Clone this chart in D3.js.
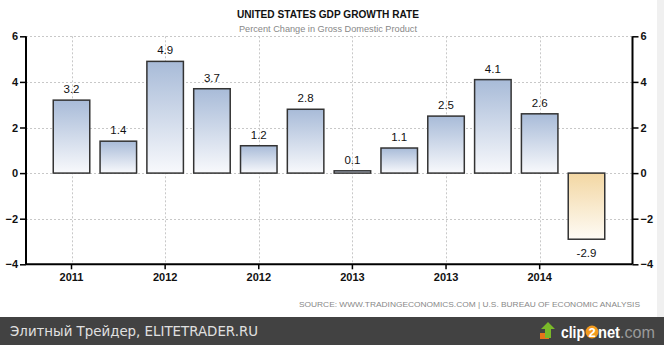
<!DOCTYPE html>
<html><head><meta charset="utf-8">
<script src="https://cdn.jsdelivr.net/npm/d3@7"></script>
<style>
html,body{margin:0;padding:0;background:#fff;}
svg{display:block;}
</style></head>
<body>
<script>
const categories = ["2011Q2","2011Q3","2011Q4","2012Q1","2012Q2","2012Q3","2012Q4","2013Q1","2013Q2","2013Q3","2013Q4","2014Q1"];
const values = [3.2, 1.4, 4.9, 3.7, 1.2, 2.8, 0.1, 1.1, 2.5, 4.1, 2.6, -2.9];
const xTickCategories = ["2011Q2","2011Q4","2012Q2","2012Q4","2013Q2","2013Q4"];
const xTickLabels = ["2011","2012","2012","2013","2013","2014"];
const yTicks = [-4, -2, 0, 2, 4, 6];

const W = 664, H = 345;
const svg = d3.select("body").append("svg").attr("width", W).attr("height", H);
const font = "'Liberation Sans', Arial, sans-serif";

// light strip on right
svg.append("rect").attr("x", 657).attr("y", 0).attr("width", 7).attr("height", 317).attr("fill", "#f0f0f0");

const defs = svg.append("defs");
const gPos = defs.append("linearGradient").attr("id", "gpos").attr("x1", 0).attr("y1", 0).attr("x2", 0).attr("y2", 1);
gPos.append("stop").attr("offset", "0%").attr("stop-color", "#a8bbd8");
gPos.append("stop").attr("offset", "100%").attr("stop-color", "#f8f9fc");
const gNeg = defs.append("linearGradient").attr("id", "gneg").attr("x1", 0).attr("y1", 0).attr("x2", 0).attr("y2", 1);
gNeg.append("stop").attr("offset", "0%").attr("stop-color", "#f3d7a3");
gNeg.append("stop").attr("offset", "100%").attr("stop-color", "#fefbf5");

const xLeft = 26, xRight = 632.5;
const y = d3.scaleLinear().domain([-4, 6]).range([264.3, 36.3]);
const x = d3.scaleBand().domain(categories).range([48.1, 609.9]).paddingInner(0.22).paddingOuter(0.11);

// grid
const grid = svg.append("g").attr("stroke", "#c8c8c8").attr("stroke-dasharray", "2,2").attr("stroke-width", 1);
yTicks.filter(t => t !== -4).forEach(t => {
  grid.append("line").attr("x1", xLeft).attr("x2", xRight).attr("y1", Math.round(y(t)) + 0.5).attr("y2", Math.round(y(t)) + 0.5);
});
xTickCategories.forEach(c => {
  const cx = Math.round(x(c) + x.bandwidth() / 2) + 0.5;
  grid.append("line").attr("x1", cx).attr("x2", cx).attr("y1", y(6)).attr("y2", y(-4));
});

// bars
svg.append("g").selectAll("rect").data(values).join("rect")
  .attr("x", (d, i) => x(categories[i]))
  .attr("width", x.bandwidth())
  .attr("y", d => y(Math.max(0, d)))
  .attr("height", d => Math.abs(y(d) - y(0)))
  .attr("fill", d => d < 0 ? "url(#gneg)" : "url(#gpos)")
  .attr("stroke", "#333")
  .attr("stroke-width", 1.5);

// value labels
svg.append("g").selectAll("text").data(values).join("text")
  .attr("x", (d, i) => x(categories[i]) + x.bandwidth() / 2)
  .attr("y", d => d >= 0 ? y(d) - 7 : y(d) + 18)
  .attr("text-anchor", "middle")
  .attr("font-family", font).attr("font-size", 11.5).attr("fill", "#111")
  .text(d => d.toFixed(1));

// left axis
const leftAxis = d3.axisLeft(y).tickValues(yTicks).tickSize(6).tickFormat(d3.format("d"));
const gl = svg.append("g").attr("transform", `translate(${xLeft},0)`).call(leftAxis);
gl.select(".domain").attr("stroke", "#000").attr("stroke-width", 2).attr("d", `M0,${y(6)}V${y(-4)}`);
gl.selectAll(".tick line").attr("stroke", "#000").attr("stroke-width", 1.5);
gl.selectAll(".tick text").attr("font-family", font).attr("font-size", 11).attr("font-weight", "bold").attr("fill", "#111").attr("x", -8);

const rightAxis = d3.axisRight(y).tickValues(yTicks).tickSize(6).tickFormat(d3.format("d"));
const gr = svg.append("g").attr("transform", `translate(${xRight},0)`).call(rightAxis);
gr.select(".domain").attr("stroke", "#000").attr("stroke-width", 2).attr("d", `M0,${y(6)}V${y(-4)}`);
gr.selectAll(".tick line").attr("stroke", "#000").attr("stroke-width", 1.5);
gr.selectAll(".tick text").attr("font-family", font).attr("font-size", 11).attr("font-weight", "bold").attr("fill", "#111").attr("x", 8);

// bottom axis
const bottomAxis = d3.axisBottom(x).tickValues(xTickCategories).tickSize(5)
  .tickFormat(c => xTickLabels[xTickCategories.indexOf(c)]);
const gb = svg.append("g").attr("transform", `translate(0,${y(-4)})`).call(bottomAxis);
gb.select(".domain").attr("stroke", "#000").attr("stroke-width", 2).attr("d", `M${xLeft},0H${xRight}`);
gb.selectAll(".tick line").attr("stroke", "#000").attr("stroke-width", 1.5);
gb.selectAll(".tick text").attr("font-family", font).attr("font-size", 11).attr("font-weight", "bold").attr("fill", "#111").attr("y", 9);

// titles
svg.append("text").attr("x", 237).attr("y", 18)
  .attr("font-family", font).attr("font-size", 11.5).attr("font-weight", "bold").attr("fill", "#111")
  .attr("textLength", 182).attr("lengthAdjust", "spacingAndGlyphs")
  .text("UNITED STATES GDP GROWTH RATE");
svg.append("text").attr("x", 239).attr("y", 32)
  .attr("font-family", font).attr("font-size", 9.5).attr("fill", "#888")
  .attr("textLength", 178).attr("lengthAdjust", "spacingAndGlyphs")
  .text("Percent Change in Gross Domestic Product");

// source
svg.append("text").attr("x", 299).attr("y", 307)
  .attr("font-family", font).attr("font-size", 8).attr("fill", "#888")
  .attr("textLength", 341).attr("lengthAdjust", "spacingAndGlyphs")
  .text("SOURCE: WWW.TRADINGECONOMICS.COM  |  U.S. BUREAU OF ECONOMIC ANALYSIS");

// bottom band
svg.append("rect").attr("x", 0).attr("y", 317).attr("width", W).attr("height", 28).attr("fill", "#424242");
svg.append("text").attr("x", 10).attr("y", 336).attr("font-family", "'DejaVu Sans', sans-serif").attr("font-size", 13.5).attr("fill", "#e0e0e0")
  .attr("textLength", 248).attr("lengthAdjust", "spacingAndGlyphs")
  .text("Элитный Трейдер, ELITETRADER.RU");

// clip2net logo
const logo = svg.append("g").attr("transform", "translate(540,318)");
logo.append("rect").attr("x", 0).attr("y", 15).attr("width", 9).attr("height", 6).attr("fill", "#e8741a");
logo.append("path").attr("d", "M8,4 L15,11 L11,11 L11,20 L5,20 L5,11 L1,11 Z").attr("fill", "#7ab929");
logo.append("text").attr("x", 21).attr("y", 20).attr("font-family", font).attr("font-weight", "bold").attr("font-size", 16).attr("fill", "#fff")
  .attr("textLength", 24).attr("lengthAdjust", "spacingAndGlyphs").text("clip");
logo.append("circle").attr("cx", 52).attr("cy", 14).attr("r", 6.5).attr("fill", "#f29b1e");
logo.append("text").attr("x", 52).attr("y", 19).attr("text-anchor", "middle").attr("font-family", font).attr("font-weight", "bold").attr("font-size", 13).attr("fill", "#fff").text("2");
logo.append("text").attr("x", 58).attr("y", 20).attr("font-family", font).attr("font-weight", "bold").attr("font-size", 16).attr("fill", "#fff")
  .attr("textLength", 22).attr("lengthAdjust", "spacingAndGlyphs").text("net");
logo.append("text").attr("x", 80).attr("y", 20).attr("font-family", font).attr("font-size", 16).attr("fill", "#9a9a9a")
  .attr("textLength", 35).attr("lengthAdjust", "spacingAndGlyphs").text(".com");
</script>
</body></html>
